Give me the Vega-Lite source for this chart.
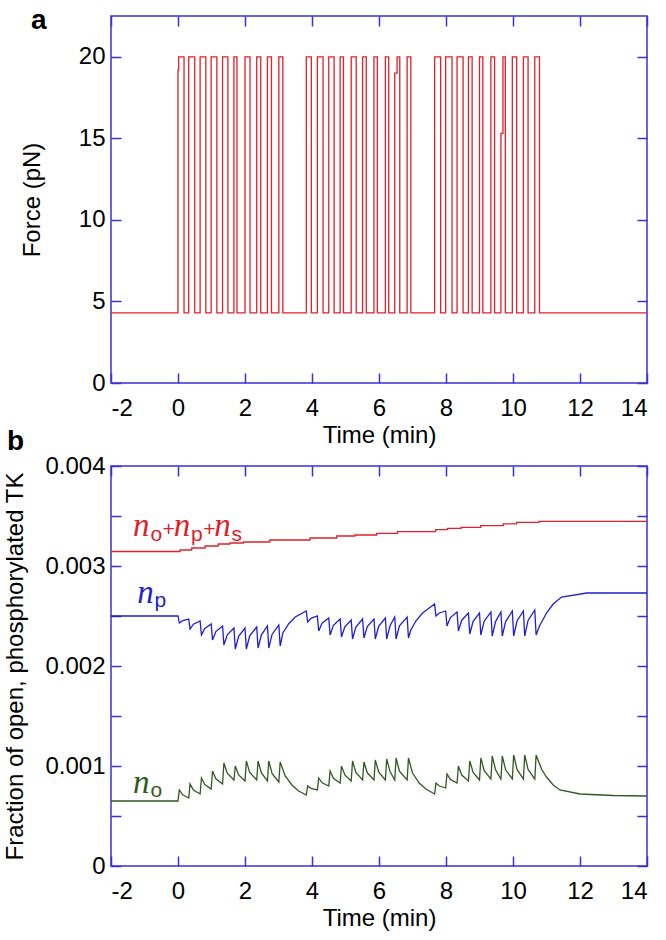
{
  "$schema": "https://vega.github.io/schema/vega-lite/v6.json",
  "padding": {"left": 3, "top": 6, "right": 0, "bottom": 0},
  "bounds": "flush",
  "spacing": 83,
  "datasets": {
    "force": [
      {"t": -2, "f": 4.3}, {"t": 0, "f": 19.2}, {"t": 0.02, "f": 20}, {"t": 0.18, "f": 4.3},
      {"t": 0.32, "f": 20}, {"t": 0.5, "f": 4.3}, {"t": 0.66, "f": 20}, {"t": 0.83, "f": 4.3},
      {"t": 0.99, "f": 20}, {"t": 1.16, "f": 4.3}, {"t": 1.33, "f": 20}, {"t": 1.49, "f": 4.3},
      {"t": 1.67, "f": 20}, {"t": 1.76, "f": 4.3}, {"t": 2.0, "f": 20}, {"t": 2.15, "f": 4.3},
      {"t": 2.35, "f": 20}, {"t": 2.47, "f": 4.3}, {"t": 2.67, "f": 20}, {"t": 2.79, "f": 4.3},
      {"t": 3.01, "f": 20}, {"t": 3.13, "f": 4.3},
      {"t": 3.83, "f": 20}, {"t": 3.98, "f": 4.3}, {"t": 4.16, "f": 20}, {"t": 4.33, "f": 4.3},
      {"t": 4.5, "f": 20}, {"t": 4.66, "f": 4.3}, {"t": 4.84, "f": 20}, {"t": 4.94, "f": 4.3},
      {"t": 5.17, "f": 20}, {"t": 5.32, "f": 4.3}, {"t": 5.51, "f": 20}, {"t": 5.62, "f": 4.3},
      {"t": 5.85, "f": 20}, {"t": 5.95, "f": 4.3}, {"t": 6.19, "f": 20}, {"t": 6.29, "f": 4.3},
      {"t": 6.47, "f": 19.0}, {"t": 6.54, "f": 20}, {"t": 6.62, "f": 4.3}, {"t": 6.84, "f": 20},
      {"t": 6.95, "f": 4.3},
      {"t": 7.66, "f": 20}, {"t": 7.84, "f": 4.3}, {"t": 7.99, "f": 20}, {"t": 8.18, "f": 4.3},
      {"t": 8.33, "f": 20}, {"t": 8.51, "f": 4.3}, {"t": 8.67, "f": 20}, {"t": 8.78, "f": 4.3},
      {"t": 9.0, "f": 20}, {"t": 9.1, "f": 4.3}, {"t": 9.34, "f": 20}, {"t": 9.45, "f": 4.3},
      {"t": 9.64, "f": 15.3}, {"t": 9.7, "f": 20}, {"t": 9.77, "f": 4.3}, {"t": 9.98, "f": 20},
      {"t": 10.11, "f": 4.3}, {"t": 10.31, "f": 20}, {"t": 10.45, "f": 4.3}, {"t": 10.65, "f": 20},
      {"t": 10.79, "f": 4.3}, {"t": 14, "f": 4.3}
    ],
    "total": [
      {"t": -2, "v": 0.003145}, {"t": 0.06, "v": 0.00316}, {"t": 0.41, "v": 0.00318},
      {"t": 0.81, "v": 0.0032}, {"t": 1.2, "v": 0.00322}, {"t": 1.55, "v": 0.00323},
      {"t": 1.95, "v": 0.00324}, {"t": 2.74, "v": 0.00326}, {"t": 3.94, "v": 0.00328},
      {"t": 4.74, "v": 0.0033}, {"t": 5.28, "v": 0.00331}, {"t": 5.93, "v": 0.003326},
      {"t": 6.55, "v": 0.003343}, {"t": 7.69, "v": 0.003363}, {"t": 8.05, "v": 0.003377},
      {"t": 8.45, "v": 0.003387}, {"t": 9.04, "v": 0.003404}, {"t": 9.71, "v": 0.003421},
      {"t": 10.11, "v": 0.003437}, {"t": 10.78, "v": 0.003447}, {"t": 14, "v": 0.003447}
    ],
    "np": [
      {"t": -2, "v": 0.0025}, {"t": 0, "v": 0.0025},
      {"t": 0.04, "v": 0.00243}, {"t": 0.14, "v": 0.002454}, {"t": 0.32, "v": 0.00247},
      {"t": 0.36, "v": 0.00237}, {"t": 0.46, "v": 0.002418}, {"t": 0.66, "v": 0.00245},
      {"t": 0.7, "v": 0.00231}, {"t": 0.8, "v": 0.002376}, {"t": 0.99, "v": 0.00242},
      {"t": 1.03, "v": 0.00226}, {"t": 1.13, "v": 0.002344}, {"t": 1.33, "v": 0.0024},
      {"t": 1.37, "v": 0.00221}, {"t": 1.47, "v": 0.002312}, {"t": 1.67, "v": 0.00238},
      {"t": 1.71, "v": 0.00217}, {"t": 1.81, "v": 0.002296}, {"t": 2.0, "v": 0.00238},
      {"t": 2.04, "v": 0.00217}, {"t": 2.14, "v": 0.002302}, {"t": 2.35, "v": 0.00239},
      {"t": 2.39, "v": 0.00218}, {"t": 2.49, "v": 0.002312}, {"t": 2.67, "v": 0.0024},
      {"t": 2.71, "v": 0.00218}, {"t": 2.81, "v": 0.002318}, {"t": 3.01, "v": 0.00241},
      {"t": 3.05, "v": 0.0022}, {"t": 3.13, "v": 0.00233}, {"t": 3.3, "v": 0.00242},
      {"t": 3.5, "v": 0.00249}, {"t": 3.83, "v": 0.00255},
      {"t": 3.87, "v": 0.00244}, {"t": 3.97, "v": 0.002476}, {"t": 4.16, "v": 0.0025},
      {"t": 4.2, "v": 0.00235}, {"t": 4.3, "v": 0.002428}, {"t": 4.5, "v": 0.00248},
      {"t": 4.54, "v": 0.00231}, {"t": 4.64, "v": 0.002406}, {"t": 4.84, "v": 0.00247},
      {"t": 4.88, "v": 0.00229}, {"t": 4.98, "v": 0.002392}, {"t": 5.17, "v": 0.00246},
      {"t": 5.21, "v": 0.00227}, {"t": 5.31, "v": 0.00239}, {"t": 5.51, "v": 0.00247},
      {"t": 5.55, "v": 0.00228}, {"t": 5.65, "v": 0.002394}, {"t": 5.85, "v": 0.00247},
      {"t": 5.89, "v": 0.00227}, {"t": 5.99, "v": 0.002396}, {"t": 6.19, "v": 0.00248},
      {"t": 6.23, "v": 0.00227}, {"t": 6.33, "v": 0.002402}, {"t": 6.47, "v": 0.00249},
      {"t": 6.51, "v": 0.00227}, {"t": 6.61, "v": 0.002402}, {"t": 6.84, "v": 0.00249},
      {"t": 6.88, "v": 0.00228}, {"t": 6.95, "v": 0.00236}, {"t": 7.1, "v": 0.00245},
      {"t": 7.3, "v": 0.00253}, {"t": 7.5, "v": 0.00258}, {"t": 7.66, "v": 0.00262},
      {"t": 7.7, "v": 0.0025}, {"t": 7.8, "v": 0.00253}, {"t": 7.99, "v": 0.00255},
      {"t": 8.03, "v": 0.0024}, {"t": 8.13, "v": 0.002484}, {"t": 8.33, "v": 0.00254},
      {"t": 8.37, "v": 0.00235}, {"t": 8.47, "v": 0.002458}, {"t": 8.67, "v": 0.00253},
      {"t": 8.71, "v": 0.00232}, {"t": 8.81, "v": 0.002446}, {"t": 9.0, "v": 0.00253},
      {"t": 9.04, "v": 0.00231}, {"t": 9.14, "v": 0.002448}, {"t": 9.34, "v": 0.00254},
      {"t": 9.38, "v": 0.0023}, {"t": 9.48, "v": 0.002444}, {"t": 9.64, "v": 0.00254},
      {"t": 9.68, "v": 0.0023}, {"t": 9.78, "v": 0.002444}, {"t": 9.98, "v": 0.00255},
      {"t": 10.02, "v": 0.0023}, {"t": 10.12, "v": 0.00245}, {"t": 10.31, "v": 0.00255},
      {"t": 10.35, "v": 0.0023}, {"t": 10.45, "v": 0.002456}, {"t": 10.65, "v": 0.00256},
      {"t": 10.69, "v": 0.00231}, {"t": 10.79, "v": 0.0024}, {"t": 11.0, "v": 0.00253},
      {"t": 11.2, "v": 0.00262}, {"t": 11.45, "v": 0.00269}, {"t": 12.2, "v": 0.00273},
      {"t": 14, "v": 0.00273}
    ],
    "no": [
      {"t": -2, "v": 0.00065}, {"t": 0, "v": 0.00065},
      {"t": 0.04, "v": 0.00076}, {"t": 0.14, "v": 0.000712}, {"t": 0.32, "v": 0.00068},
      {"t": 0.36, "v": 0.00082}, {"t": 0.46, "v": 0.00076}, {"t": 0.66, "v": 0.00072},
      {"t": 0.7, "v": 0.00088}, {"t": 0.8, "v": 0.000814}, {"t": 0.99, "v": 0.00077},
      {"t": 1.03, "v": 0.00095}, {"t": 1.13, "v": 0.000872}, {"t": 1.33, "v": 0.00082},
      {"t": 1.37, "v": 0.00103}, {"t": 1.47, "v": 0.000928}, {"t": 1.67, "v": 0.00086},
      {"t": 1.71, "v": 0.001}, {"t": 1.81, "v": 0.00091}, {"t": 2.0, "v": 0.00085},
      {"t": 2.04, "v": 0.00105}, {"t": 2.14, "v": 0.000936}, {"t": 2.35, "v": 0.00086},
      {"t": 2.39, "v": 0.00105}, {"t": 2.49, "v": 0.00093}, {"t": 2.67, "v": 0.00085},
      {"t": 2.71, "v": 0.00105}, {"t": 2.81, "v": 0.000924}, {"t": 3.01, "v": 0.00084},
      {"t": 3.05, "v": 0.00104}, {"t": 3.2, "v": 0.0009}, {"t": 3.4, "v": 0.00081},
      {"t": 3.6, "v": 0.00075}, {"t": 3.83, "v": 0.00071},
      {"t": 3.87, "v": 0.0008}, {"t": 3.97, "v": 0.000776}, {"t": 4.16, "v": 0.00076},
      {"t": 4.2, "v": 0.00088}, {"t": 4.3, "v": 0.000832}, {"t": 4.5, "v": 0.0008},
      {"t": 4.54, "v": 0.00095}, {"t": 4.64, "v": 0.000878}, {"t": 4.84, "v": 0.00083},
      {"t": 4.88, "v": 0.001}, {"t": 4.98, "v": 0.00091}, {"t": 5.17, "v": 0.00085},
      {"t": 5.21, "v": 0.00105}, {"t": 5.31, "v": 0.000936}, {"t": 5.51, "v": 0.00086},
      {"t": 5.55, "v": 0.00104}, {"t": 5.65, "v": 0.000932}, {"t": 5.85, "v": 0.00086},
      {"t": 5.89, "v": 0.00106}, {"t": 5.99, "v": 0.00094}, {"t": 6.19, "v": 0.00086},
      {"t": 6.23, "v": 0.00107}, {"t": 6.33, "v": 0.000944}, {"t": 6.47, "v": 0.00086},
      {"t": 6.51, "v": 0.00108}, {"t": 6.61, "v": 0.000948}, {"t": 6.84, "v": 0.00086},
      {"t": 6.88, "v": 0.00108}, {"t": 7.0, "v": 0.00093}, {"t": 7.2, "v": 0.00083},
      {"t": 7.4, "v": 0.00077}, {"t": 7.66, "v": 0.00072},
      {"t": 7.7, "v": 0.00083}, {"t": 7.8, "v": 0.0008}, {"t": 7.99, "v": 0.00078},
      {"t": 8.03, "v": 0.00092}, {"t": 8.13, "v": 0.000866}, {"t": 8.33, "v": 0.00083},
      {"t": 8.37, "v": 0.001}, {"t": 8.47, "v": 0.00091}, {"t": 8.67, "v": 0.00085},
      {"t": 8.71, "v": 0.00105}, {"t": 8.81, "v": 0.000936}, {"t": 9.0, "v": 0.00086},
      {"t": 9.04, "v": 0.00108}, {"t": 9.14, "v": 0.000954}, {"t": 9.34, "v": 0.00087},
      {"t": 9.38, "v": 0.0011}, {"t": 9.48, "v": 0.000962}, {"t": 9.64, "v": 0.00087},
      {"t": 9.68, "v": 0.0011}, {"t": 9.78, "v": 0.000962}, {"t": 9.98, "v": 0.00087},
      {"t": 10.02, "v": 0.00111}, {"t": 10.12, "v": 0.000966}, {"t": 10.31, "v": 0.00087},
      {"t": 10.35, "v": 0.00111}, {"t": 10.45, "v": 0.000966}, {"t": 10.65, "v": 0.00087},
      {"t": 10.69, "v": 0.00111}, {"t": 10.85, "v": 0.00097}, {"t": 11.0, "v": 0.00089},
      {"t": 11.2, "v": 0.00081}, {"t": 11.4, "v": 0.00076}, {"t": 12, "v": 0.00072},
      {"t": 13, "v": 0.000705}, {"t": 14, "v": 0.0007}
    ],
    "labels": [
      {"t": -1.34, "v": 0.0033, "txt": "n", "k": "n", "s": "total"},
      {"t": -0.82, "v": 0.00325, "txt": "o", "k": "sub", "s": "total"},
      {"t": -0.46, "v": 0.0033, "txt": "+", "k": "plus", "s": "total"},
      {"t": -0.13, "v": 0.0033, "txt": "n", "k": "n", "s": "total"},
      {"t": 0.39, "v": 0.00325, "txt": "p", "k": "sub", "s": "total"},
      {"t": 0.75, "v": 0.0033, "txt": "+", "k": "plus", "s": "total"},
      {"t": 1.08, "v": 0.0033, "txt": "n", "k": "n", "s": "total"},
      {"t": 1.6, "v": 0.00325, "txt": "s", "k": "sub", "s": "total"},
      {"t": -1.22, "v": 0.00263, "txt": "n", "k": "n", "s": "np"},
      {"t": -0.7, "v": 0.00259, "txt": "p", "k": "sub", "s": "np"},
      {"t": -1.34, "v": 0.000735, "txt": "n", "k": "n", "s": "no"},
      {"t": -0.82, "v": 0.000695, "txt": "o", "k": "sub", "s": "no"}
    ]
  },
  "vconcat": [
    {
      "width": 536,
      "height": 367,
      "title": {"text": "a", "anchor": "start", "frame": "group", "fontSize": 28, "fontWeight": "bold", "dx": -80, "offset": -20, "color": "#000"},
      "layer": [
        {
          "data": {"name": "force"},
          "mark": {"type": "line", "interpolate": "step-after", "color": "#e0202a", "strokeWidth": 1.3},
          "encoding": {
            "x": {"field": "t", "type": "quantitative", "scale": {"domain": [-2, 14], "nice": false, "zero": false},
                  "axis": {"values": [-2, 0, 2, 4, 6, 8, 10, 12, 14], "labelExpr": "'' + datum.value", "title": "Time (min)"}},
            "y": {"field": "f", "type": "quantitative", "scale": {"domain": [0, 22.5], "nice": false},
                  "axis": {"values": [0, 5, 10, 15, 20], "title": "Force (pN)", "titlePadding": 34}}
          }
        },
        {
          "data": {"name": "force"},
          "mark": {"type": "line", "opacity": 0},
          "encoding": {
            "x": {"field": "t", "type": "quantitative", "axis": {"orient": "top", "values": [-2, 0, 2, 4, 6, 8, 10, 12, 14], "labels": false, "title": null, "maxExtent": 0, "minExtent": 0}},
            "y": {"field": "f", "type": "quantitative", "axis": {"orient": "right", "values": [0, 5, 10, 15, 20], "labels": false, "title": null, "maxExtent": 0, "minExtent": 0}}
          }
        }
      ],
      "resolve": {"axis": {"x": "independent", "y": "independent"}}
    },
    {
      "width": 536,
      "height": 400,
      "title": {"text": "b", "anchor": "start", "frame": "group", "fontSize": 28, "fontWeight": "bold", "dx": -104, "offset": -2, "color": "#000"},
      "layer": [
        {
          "data": {"name": "total"},
          "mark": {"type": "line", "interpolate": "step-after", "color": "#e0202a", "strokeWidth": 1.3},
          "encoding": {
            "x": {"field": "t", "type": "quantitative", "scale": {"domain": [-2, 14], "nice": false, "zero": false},
                  "axis": {"values": [-2, 0, 2, 4, 6, 8, 10, 12, 14], "labelExpr": "'' + datum.value", "title": "Time (min)"}},
            "y": {"field": "v", "type": "quantitative", "scale": {"domain": [0, 0.004], "nice": false},
                  "axis": {"values": [0, 0.0005, 0.001, 0.0015, 0.002, 0.0025, 0.003, 0.0035, 0.004],
                           "labelExpr": "round(datum.value*2000) % 2 === 0 ? (datum.value === 0 ? '0' : format(datum.value, '.3f')) : ''",
                           "title": "Fraction of open, phosphorylated TK", "titlePadding": 17}}
          }
        },
        {
          "data": {"name": "np"},
          "mark": {"type": "line", "color": "#1f1fcc", "strokeWidth": 1.3},
          "encoding": {
            "x": {"field": "t", "type": "quantitative", "axis": null},
            "y": {"field": "v", "type": "quantitative", "axis": null}
          }
        },
        {
          "data": {"name": "no"},
          "mark": {"type": "line", "color": "#2f5a1f", "strokeWidth": 1.3},
          "encoding": {
            "x": {"field": "t", "type": "quantitative", "axis": null},
            "y": {"field": "v", "type": "quantitative", "axis": null}
          }
        },
        {
          "data": {"name": "labels"},
          "transform": [{"filter": "datum.k === 'n'"}],
          "mark": {"type": "text", "font": "Liberation Serif", "fontStyle": "italic", "fontSize": 33, "align": "left", "baseline": "alphabetic"},
          "encoding": {
            "x": {"field": "t", "type": "quantitative", "axis": null},
            "y": {"field": "v", "type": "quantitative", "axis": null},
            "text": {"field": "txt"},
            "color": {"field": "s", "type": "nominal", "scale": {"domain": ["total", "np", "no"], "range": ["#e0202a", "#1f1fcc", "#2f5a1f"]}, "legend": null}
          }
        },
        {
          "data": {"name": "labels"},
          "transform": [{"filter": "datum.k !== 'n'"}],
          "mark": {"type": "text", "font": "Liberation Sans", "fontSize": 21, "align": "left", "baseline": "alphabetic"},
          "encoding": {
            "x": {"field": "t", "type": "quantitative", "axis": null},
            "y": {"field": "v", "type": "quantitative", "axis": null},
            "text": {"field": "txt"},
            "color": {"field": "s", "type": "nominal", "scale": {"domain": ["total", "np", "no"], "range": ["#e0202a", "#1f1fcc", "#2f5a1f"]}, "legend": null}
          }
        },
        {
          "data": {"name": "total"},
          "mark": {"type": "line", "opacity": 0},
          "encoding": {
            "x": {"field": "t", "type": "quantitative", "axis": {"orient": "top", "values": [-2, 0, 2, 4, 6, 8, 10, 12, 14], "labels": false, "title": null, "maxExtent": 0, "minExtent": 0}},
            "y": {"field": "v", "type": "quantitative", "axis": {"orient": "right", "values": [0, 0.0005, 0.001, 0.0015, 0.002, 0.0025, 0.003, 0.0035, 0.004], "labels": false, "title": null, "maxExtent": 0, "minExtent": 0}}
          }
        }
      ],
      "resolve": {"axis": {"x": "independent", "y": "independent"}}
    }
  ],
  "config": {
    "font": "Liberation Sans",
    "view": {"stroke": "#3b2fd9", "strokeWidth": 1.5},
    "axis": {
      "grid": false,
      "domain": false,
      "tickColor": "#3b2fd9",
      "tickSize": -10,
      "tickWidth": 1.5,
      "labelFontSize": 24,
      "labelColor": "#000",
      "labelPadding": 16,
      "titleFontSize": 24,
      "titleFontWeight": "normal",
      "titleColor": "#000",
      "titlePadding": 6
    },
    "axisX": {"labelPadding": 23, "titlePadding": 3},
    "title": {"color": "#000"}
  }
}
